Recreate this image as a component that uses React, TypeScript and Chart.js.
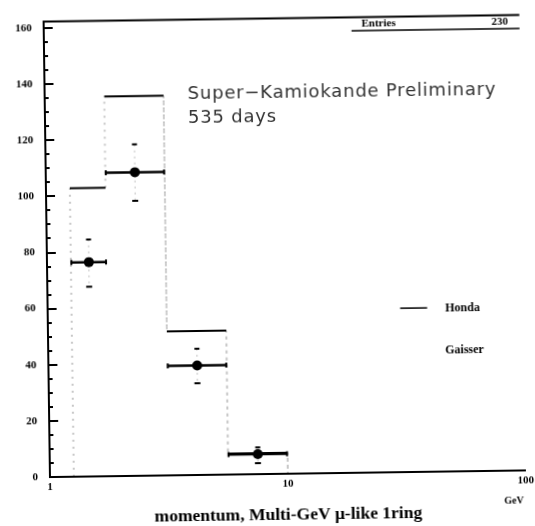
import React, { useEffect, useRef } from 'react';
import { Chart, registerables } from 'chart.js';

Chart.register(...registerables);

// ---- data ----
const binEdges = [1.26, 1.78, 3.16, 5.62, 10]; // GeV
const hondaCounts = [102.8, 135.3, 51.3, 7.5];
const dataMomentum = [1.5, 2.37, 4.22, 7.5];
const dataCounts = [76.4, 108.2, 39.0, 7.1];
const dataErrLow = [67.6, 98.0, 32.7, 3.9];
const dataErrHigh = [84.5, 118.1, 45.0, 9.5];
const xTickLabels = [1, 10, 100];
const yMajorStep = 20;
const yMinorStep = 5;
const yTickMax = 160;
const yMax = 162.3;
const entries = 230;
const titleText = 'momentum, Multi-GeV \u03bc-like 1ring';
const bannerLines = ['Super\u2212Kamiokande Preliminary', '535 days'];
const legendLabels = ['Honda', 'Gaisser'];

const SERIF = '"Liberation Serif", "Times New Roman", serif';

function buildHonda() {
  const pts: { x: number; y: number }[] = [];
  pts.push({ x: binEdges[0], y: 0 });
  hondaCounts.forEach((v, i) => {
    pts.push({ x: binEdges[i], y: v });
    pts.push({ x: binEdges[i + 1], y: v });
  });
  pts.push({ x: binEdges[binEdges.length - 1], y: 0 });
  return pts;
}

const decorPlugin = {
  id: 'decor',
  afterDraw(chart: any) {
    const { ctx, chartArea } = chart;
    const { left, right, top, bottom } = chartArea;
    const ys = chart.scales.y;
    ctx.save();

    // top frame
    ctx.strokeStyle = '#000';
    ctx.lineWidth = 2;
    ctx.beginPath();
    ctx.moveTo(left - 1, top);
    ctx.lineTo(right, top);
    ctx.stroke();

    // inward y ticks
    for (let v = 0; v <= yTickMax + 1e-9; v += yMinorStep) {
      const py = Math.round(ys.getPixelForValue(v));
      const major = Math.abs(v / yMajorStep - Math.round(v / yMajorStep)) < 1e-6;
      ctx.strokeStyle = '#000';
      ctx.lineWidth = 2;
      ctx.beginPath();
      ctx.moveTo(left, py);
      ctx.lineTo(left + (major ? 9 : 4), py);
      ctx.stroke();
    }

    // stats box
    ctx.lineWidth = 1.5;
    ctx.beginPath();
    ctx.moveTo(right - 168, top + 13.5);
    ctx.lineTo(right, top + 13.5);
    ctx.stroke();
    ctx.fillStyle = '#000';
    ctx.font = `bold 11px ${SERIF}`;
    ctx.textBaseline = 'middle';
    ctx.textAlign = 'left';
    ctx.fillText('Entries', right - 158, top + 6.5);
    ctx.fillText(String(entries), right - 28, top + 6.5);

    // banner
    ctx.font = '18px "DejaVu Sans", sans-serif';
    ctx.fillStyle = '#333';
    (ctx as any).letterSpacing = '0.8px';
    ctx.fillText(bannerLines[0], left + 143, top + 75);
    ctx.fillText(bannerLines[1], left + 143, top + 99);
    (ctx as any).letterSpacing = '0px';

    // legend
    ctx.strokeStyle = '#000';
    ctx.lineWidth = 1.5;
    ctx.beginPath();
    ctx.moveTo(left + 352.5, top + 291.5);
    ctx.lineTo(left + 379.5, top + 291.5);
    ctx.stroke();
    ctx.fillStyle = '#000';
    ctx.font = `bold 12px ${SERIF}`;
    ctx.fillText(legendLabels[0], left + 397.5, top + 292);
    ctx.fillText(legendLabels[1], left + 397, top + 334.5);

    // unit
    ctx.font = `bold 10px ${SERIF}`;
    ctx.textAlign = 'center';
    ctx.fillText('GeV', right - 12, bottom + 30);

    ctx.restore();
  },
  afterDatasetsDraw(chart: any) {
    const { ctx } = chart;
    const xs = chart.scales.x;
    const ys = chart.scales.y;
    ctx.save();
    dataMomentum.forEach((m, i) => {
      const py = ys.getPixelForValue(dataCounts[i]);
      const x0 = xs.getPixelForValue(binEdges[i]);
      const x1 = xs.getPixelForValue(binEdges[i + 1]);
      const px = xs.getPixelForValue(m);
      const yl = ys.getPixelForValue(dataErrLow[i]);
      const yh = ys.getPixelForValue(dataErrHigh[i]);
      // horizontal bar
      ctx.strokeStyle = '#000';
      ctx.lineWidth = 2.5;
      ctx.beginPath();
      ctx.moveTo(x0, py);
      ctx.lineTo(x1, py);
      ctx.stroke();
      ctx.lineWidth = 2;
      ctx.beginPath();
      ctx.moveTo(x0 + 0.5, py - 2.5);
      ctx.lineTo(x0 + 0.5, py + 2.5);
      ctx.moveTo(x1 - 0.5, py - 2.5);
      ctx.lineTo(x1 - 0.5, py + 2.5);
      ctx.stroke();
      // vertical error (faint)
      ctx.strokeStyle = 'rgba(0,0,0,0.25)';
      ctx.lineWidth = 1;
      ctx.setLineDash([2, 4]);
      ctx.beginPath();
      ctx.moveTo(px, yh);
      ctx.lineTo(px, yl);
      ctx.stroke();
      ctx.setLineDash([]);
      ctx.strokeStyle = '#000';
      ctx.lineWidth = 2;
      ctx.beginPath();
      ctx.moveTo(px - 2.5, yh);
      ctx.lineTo(px + 2.5, yh);
      ctx.moveTo(px - 3, yl);
      ctx.lineTo(px + 3, yl);
      ctx.stroke();
    });
    ctx.restore();
  },
};

export default function App() {
  const ref = useRef<HTMLCanvasElement | null>(null);
  useEffect(() => {
    if (!ref.current) return;
    const isVertical = (c: any) => c.p0.parsed.x === c.p1.parsed.x;
    const chart = new Chart(ref.current, {
      type: 'scatter',
      data: {
        datasets: [
          {
            type: 'line',
            label: 'Honda',
            data: buildHonda(),
            borderColor: '#000',
            borderWidth: 2,
            pointRadius: 0,
            fill: false,
            tension: 0,
            segment: {
              borderColor: (c: any) => (isVertical(c) ? 'rgba(0,0,0,0.22)' : '#000'),
              borderDash: (c: any) => (isVertical(c) ? [2, 5] : []),
            },
          } as any,
          {
            type: 'scatter',
            label: 'Data',
            data: dataMomentum.map((m, i) => ({ x: m, y: dataCounts[i] })),
            pointRadius: 5,
            pointBackgroundColor: '#000',
            pointBorderColor: '#000',
            pointBorderWidth: 0,
            showLine: false,
          } as any,
        ],
      },
      options: {
        animation: false,
        responsive: false,
        layout: { padding: { top: 12.5, right: 12, left: 0, bottom: 0 } },
        plugins: { legend: { display: false }, tooltip: { enabled: false }, title: { display: false } },
        scales: {
          x: {
            type: 'logarithmic',
            min: 1,
            max: 100,
            position: 'bottom',
            grid: { display: true, drawOnChartArea: false, drawTicks: false },
            border: { display: true, color: '#000', width: 2 },
            ticks: {
              autoSkip: false,
              maxRotation: 0,
              padding: 4,
              color: '#000',
              font: { family: SERIF, weight: 'bold', size: 11 },
              callback: (v: any) => {
                const n = Number(v);
                return xTickLabels.some((t) => Math.abs(t - n) < 1e-9) ? String(n) : '';
              },
            },
            title: {
              display: true,
              text: titleText,
              color: '#000',
              font: { family: SERIF, weight: 'bold', size: 17.5 },
              padding: 0,
            },
            afterFit: (s: any) => {
              s.height = 52;
            },
          },
          y: {
            type: 'linear',
            min: 0,
            max: yMax,
            grid: { display: true, drawOnChartArea: false, drawTicks: false },
            border: { display: true, color: '#000', width: 2 },
            ticks: {
              stepSize: yMinorStep,
              includeBounds: false,
              autoSkip: false,
              padding: 12,
              color: '#000',
              font: { family: SERIF, weight: 'bold', size: 11 },
              callback: (v: any) => {
                const n = Number(v);
                return Math.abs(n / yMajorStep - Math.round(n / yMajorStep)) < 1e-6 ? String(n) : '';
              },
            },
            afterFit: (s: any) => {
              s.width = 47;
            },
          },
        },
      } as any,
      plugins: [decorPlugin],
    });
    return () => chart.destroy();
  }, []);

  return (
    <div
      style={{
        position: 'absolute',
        left: 0,
        top: 0,
        width: 535,
        height: 526,
        transform: 'rotate(-0.8deg)',
        transformOrigin: '50% 50%',
      }}
    >
      <canvas ref={ref} width={535} height={526} style={{ width: 535, height: 526, display: 'block' }} />
    </div>
  );
}
